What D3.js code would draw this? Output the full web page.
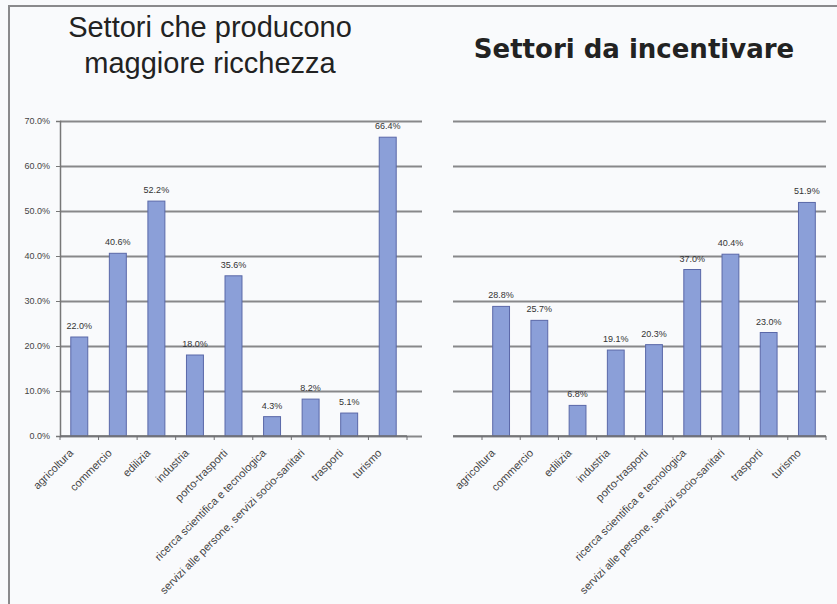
<html>
<head>
<script src="https://d3js.org/d3.v7.min.js"></script>
<style>
  body { margin: 0; background: #fff; }
  .tick text { font-family: "Liberation Sans", Arial, sans-serif; }
  .gridlines line { stroke: #88888a; stroke-width: 2; }
  .gridlines .domain { stroke: none; }
</style>
</head>
<body>
<svg id="chart" width="837" height="604"></svg>
<script>
const categories = ['agricoltura', 'commercio', 'edilizia', 'industria', 'porto-trasporti',
  'ricerca scientifica e tecnologica', 'servizi alle persone, servizi socio-sanitari', 'trasporti', 'turismo'];
const ricchezza = [22.0, 40.6, 52.2, 18.0, 35.6, 4.3, 8.2, 5.1, 66.4];
const incentivare = [28.8, 25.7, 6.8, 19.1, 20.3, 37.0, 40.4, 23.0, 51.9];
const yTicks = [0, 10, 20, 30, 40, 50, 60, 70];

const svg = d3.select('svg#chart');

// page background and frame
svg.append('rect').attr('width', 837).attr('height', 604).attr('fill', '#f9fafc');
svg.append('path').attr('d', 'M9,604 V6 H837').attr('fill', 'none')
  .attr('stroke', '#8a8a8c').attr('stroke-width', 2);

const fmt = v => v.toFixed(1) + '%';

function drawPanel(values, opts) {
  const y = d3.scaleLinear().domain([0, 70]).range([436, 121]);
  const x = d3.scaleBand().domain(categories).range([opts.x0, opts.x1]).paddingInner(0.56).paddingOuter(0.28);

  // gridlines
  svg.append('g').attr('class', 'gridlines')
    .attr('transform', `translate(${opts.g0},0)`)
    .call(d3.axisLeft(y).tickValues(yTicks).tickSize(-(opts.g1 - opts.g0)).tickFormat(''));

  if (opts.showY) {
    const ya = svg.append('g').attr('transform', `translate(${opts.x0},0)`)
      .call(d3.axisLeft(y).tickValues(yTicks).tickSize(4).tickFormat(d => d.toFixed(1) + '%'));
    ya.select('.domain').attr('stroke', '#777').attr('stroke-width', 1.5);
    ya.selectAll('.tick line').attr('stroke', '#777');
    ya.selectAll('.tick text').attr('font-size', 9).attr('fill', '#444').attr('x', -10);
  }

  // bars
  svg.append('g').selectAll('rect').data(values).join('rect')
    .attr('x', (d, i) => x(categories[i]))
    .attr('y', d => y(d))
    .attr('width', x.bandwidth())
    .attr('height', d => y(0) - y(d))
    .attr('fill', '#8b9fd8')
    .attr('stroke', '#5a68a8')
    .attr('stroke-width', 1);

  // value labels
  svg.append('g').selectAll('text').data(values).join('text')
    .attr('x', (d, i) => x(categories[i]) + x.bandwidth() / 2)
    .attr('y', d => y(d) - 8)
    .attr('text-anchor', 'middle')
    .attr('font-family', 'Liberation Sans, Arial, sans-serif')
    .attr('font-size', 9)
    .attr('fill', '#333')
    .text(fmt);

  // x axis with ticks between categories
  const step = (opts.x1 - opts.x0) / categories.length;
  const xa = svg.append('g').attr('transform', 'translate(0,436)');
  xa.append('line').attr('x1', opts.axisStart).attr('x2', opts.x1).attr('y1', 0).attr('y2', 0)
    .attr('stroke', '#6f6f72').attr('stroke-width', 1.5);
  xa.selectAll('line.tk').data(d3.range(categories.length + 1)).join('line')
    .attr('class', 'tk')
    .attr('x1', i => opts.x0 + i * step).attr('x2', i => opts.x0 + i * step)
    .attr('y1', 0).attr('y2', 4)
    .attr('stroke', '#6f6f72');

  xa.selectAll('text').data(categories).join('text')
    .attr('transform', d => `translate(${x(d) + x.bandwidth() / 2 - 8},15) rotate(-45)`)
    .attr('text-anchor', 'end')
    .attr('dy', '0.35em')
    .attr('font-family', 'Liberation Sans, Arial, sans-serif')
    .attr('font-size', 11)
    .attr('fill', '#444')
    .text(d => d);
}

drawPanel(ricchezza, { x0: 60, x1: 407, g0: 60, g1: 422, axisStart: 60, showY: true });
drawPanel(incentivare, { x0: 482, x1: 826, g0: 453, g1: 826, axisStart: 453, showY: false });

// titles
svg.append('text').attr('x', 210).attr('y', 37).attr('text-anchor', 'middle')
  .attr('font-family', 'Liberation Sans, Arial, sans-serif').attr('font-size', 29).attr('fill', '#222')
  .text('Settori che producono');
svg.append('text').attr('x', 210).attr('y', 73).attr('text-anchor', 'middle')
  .attr('font-family', 'Liberation Sans, Arial, sans-serif').attr('font-size', 29).attr('fill', '#222')
  .text('maggiore ricchezza');
svg.append('text').attr('x', 634).attr('y', 58).attr('text-anchor', 'middle')
  .attr('font-family', 'DejaVu Sans, sans-serif').attr('font-weight', 'bold').attr('font-size', 26)
  .attr('fill', '#222')
  .text('Settori da incentivare');
</script>
</body>
</html>
